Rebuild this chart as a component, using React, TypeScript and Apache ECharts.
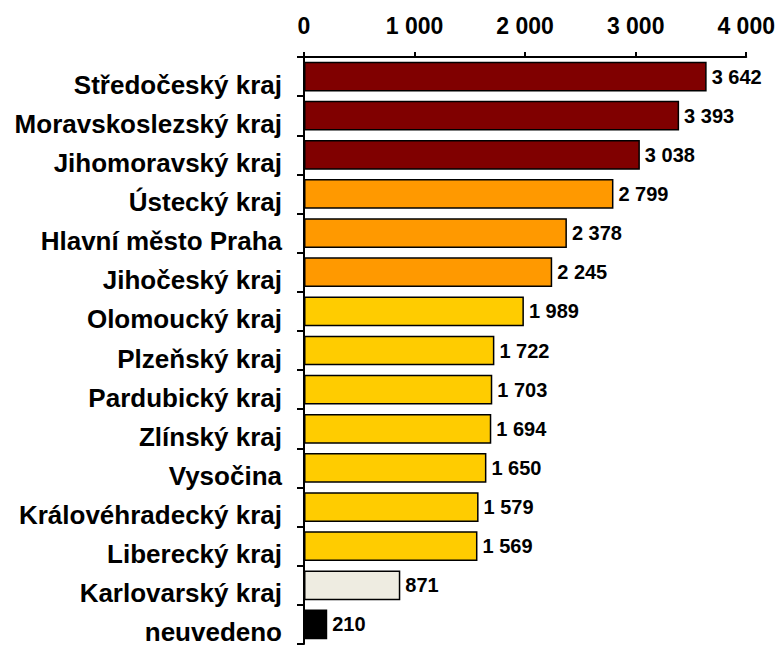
import React, { useEffect, useRef } from "react";
import * as echarts from "echarts";

const categories = [
  "Středočeský kraj",
  "Moravskoslezský kraj",
  "Jihomoravský kraj",
  "Ústecký kraj",
  "Hlavní město Praha",
  "Jihočeský kraj",
  "Olomoucký kraj",
  "Plzeňský kraj",
  "Pardubický kraj",
  "Zlínský kraj",
  "Vysočina",
  "Královéhradecký kraj",
  "Liberecký kraj",
  "Karlovarský kraj",
  "neuvedeno",
];
const values = [3642, 3393, 3038, 2799, 2378, 2245, 1989, 1722, 1703, 1694, 1650, 1579, 1569, 871, 210];
const barColors = [
  "#800000", "#800000", "#800000",
  "#FF9900", "#FF9900", "#FF9900",
  "#FFCC00", "#FFCC00", "#FFCC00", "#FFCC00", "#FFCC00", "#FFCC00", "#FFCC00",
  "#EEECE1",
  "#000000",
];
const xTicks = [0, 1000, 2000, 3000, 4000];

const fmt = (v: number) => {
  const s = String(Math.round(v));
  return s.replace(/\B(?=(\d{3})+(?!\d))/g, " ");
};

const FONT = "'Liberation Sans', Arial, sans-serif";

export default function App() {
  const ref = useRef<HTMLDivElement>(null);
  useEffect(() => {
    if (!ref.current) return;
    const chart = echarts.init(ref.current, null, { renderer: "svg" });
    chart.setOption({
      animation: false,
      backgroundColor: "#ffffff",
      textStyle: { fontFamily: FONT },
      grid: { left: 304, right: 31, top: 57, height: 587, containLabel: false },
      xAxis: {
        type: "value",
        position: "top",
        min: xTicks[0],
        max: xTicks[xTicks.length - 1],
        interval: 1000,
        axisLine: { show: true, lineStyle: { color: "#000", width: 2 } },
        axisTick: { show: true, inside: false, length: 5, lineStyle: { color: "#000", width: 2 } },
        splitLine: { show: false },
        axisLabel: {
          color: "#000",
          fontSize: 23,
          fontWeight: "bold",
          fontFamily: FONT,
          margin: 20,
          formatter: (v: number) => fmt(v),
        },
      },
      yAxis: {
        type: "category",
        data: categories,
        inverse: true,
        axisLine: { show: true, lineStyle: { color: "#000", width: 2 } },
        axisTick: { show: true, inside: false, length: 7, lineStyle: { color: "#000", width: 2 } },
        axisLabel: {
          color: "#000",
          fontSize: 26,
          fontWeight: "bold",
          fontFamily: FONT,
          margin: 22,
          verticalAlign: "top",
          lineHeight: 16,
        },
      },
      series: [
        {
          type: "bar",
          data: values.map((v, i) => ({
            value: v,
            itemStyle: { color: barColors[i], borderColor: "#000", borderWidth: 1.5 },
          })),
          barCategoryGap: "24%",
          label: {
            show: true,
            position: "right",
            distance: 5,
            color: "#000",
            fontSize: 20,
            fontWeight: "bold",
            fontFamily: FONT,
            formatter: (p: any) => fmt(p.value),
          },
        },
      ],
    });
    return () => chart.dispose();
  }, []);
  return (
    <div
      ref={ref}
      style={{ position: "fixed", left: 0, top: 0, width: 778, height: 649 }}
    />
  );
}
